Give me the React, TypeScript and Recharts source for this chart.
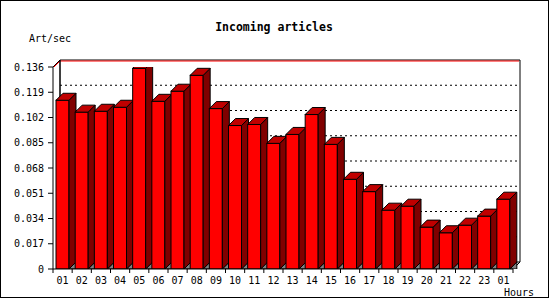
import React from "react";
import { BarChart, Bar, XAxis, YAxis, CartesianGrid } from "recharts";

const hours = ["01","02","03","04","05","06","07","08","09","10","11","12","13","14","15","16","17","18","19","20","21","22","23","01"];
const artPerSec = [0.1136,0.1056,0.1062,0.1089,0.1351,0.1129,0.1197,0.1304,0.108,0.0966,0.0973,0.0846,0.0906,0.104,0.0839,0.0604,0.0521,0.0396,0.0423,0.0282,0.0244,0.0295,0.0356,0.047];
const yTicks = [0,0.017,0.034,0.051,0.068,0.085,0.102,0.119,0.136];

const data = hours.map((h, i) => ({ hour: h, value: artPerSec[i] }));

const W = 550, H = 300;
const LEFT = 53, RIGHT = 513, TOP = 67, BOTTOM = 269;
const D = 7;
const FONT = "'DejaVu Sans Mono', monospace";
const BAND = (RIGHT - LEFT) / hours.length;

const Bar3D = (props: any) => {
  const { x, y, width, height } = props;
  if (width == null || height == null) return null;
  const b = y + height;
  return (
    <g>
      <polygon points={`${x + width},${b} ${x + width + D},${b - D} ${x + width + D},${b}`} fill="#808080" stroke="#000" strokeWidth={1} />
      <rect x={x} y={y} width={width} height={height} fill="#ff0000" stroke="#000" strokeWidth={1} />
      <polygon points={`${x + width},${y} ${x + width + D},${y - D} ${x + width + D},${b - D} ${x + width},${b}`} fill="#800000" stroke="#000" strokeWidth={1} />
      <polygon points={`${x},${y} ${x + D},${y - D} ${x + width + D},${y - D} ${x + width},${y}`} fill="#c00000" stroke="#000" strokeWidth={1} />
    </g>
  );
};

const XTick = (props: any) => {
  const { x, payload, index } = props;
  const last = index === hours.length - 1;
  return (
    <g>
      <line x1={x - BAND / 2} y1={BOTTOM} x2={x - BAND / 2} y2={BOTTOM + 4} stroke="#000" />
      {last && <line x1={x + BAND / 2} y1={BOTTOM} x2={x + BAND / 2} y2={BOTTOM + 4} stroke="#000" />}
      <text x={x} y={BOTTOM + 14.5} textAnchor="middle" fontFamily={FONT} fontSize={10} fill="#000">{payload.value}</text>
    </g>
  );
};

const GridLine = (props: any) => {
  const { x1, x2, y1 } = props;
  if (Math.abs(y1 - TOP) < 1) {
    return (
      <g>
        <line x1={x1 + D} x2={x2 + D} y1={y1 - D} y2={y1 - D} stroke="#000" />
        <line x1={x1 + D} x2={x2 + D - 1} y1={y1 - D + 1} y2={y1 - D + 1} stroke="#ff0000" />
        <line x1={x1} y1={y1} x2={x1 + D} y2={y1 - D} stroke="#000" />
        <line x1={x1 + 1} y1={y1} x2={x1 + D} y2={y1 - D + 1} stroke="#ff0000" />
        <line x1={x1 + D} y1={y1 - D} x2={x1 + D} y2={BOTTOM - D} stroke="#000" />
      </g>
    );
  }
  if (Math.abs(y1 - BOTTOM) < 1) {
    return <line x1={x1 + D} x2={x2 + D} y1={y1 - D} y2={y1 - D} stroke="#000" />;
  }
  return <line x1={x1 + D} x2={x2 + D} y1={y1 - D} y2={y1 - D} stroke="#000" strokeDasharray="2 3" />;
};

export default function App() {
  return (
    <div style={{ width: W, height: H, background: "#fff" }}>
      <style>{"body{margin:0}"}</style>
      <BarChart
        width={W}
        height={H}
        data={data}
        margin={{ top: TOP, right: W - RIGHT, bottom: H - BOTTOM - 20, left: LEFT - 45 }}
        barSize={13}
      >
        <CartesianGrid vertical={false} horizontal={GridLine as any} stroke="#000" />
        <line x1={LEFT + D} y1={TOP - D} x2={LEFT + D} y2={BOTTOM - D} stroke="#000" />
        <line x1={RIGHT + D} y1={TOP - D} x2={RIGHT + D} y2={BOTTOM - D} stroke="#000" />
        <line x1={RIGHT} y1={BOTTOM} x2={RIGHT + D} y2={BOTTOM - D} stroke="#000" />
        <XAxis
          dataKey="hour"
          height={20}
          tickLine={false}
          axisLine={{ stroke: "#000" }}
          tick={<XTick />}
          interval={0}
        />
        <YAxis
          type="number"
          domain={[0, 0.136]}
          ticks={yTicks}
          width={45}
          tickSize={5}
          tickMargin={4}
          tickLine={{ stroke: "#000" }}
          axisLine={{ stroke: "#000" }}
          tick={{ fill: "#000", fontFamily: FONT, fontSize: 10 }}
          tickFormatter={(v: number) => (v === 0 ? "0" : v.toFixed(3))}
          allowDataOverflow
        />
        <Bar dataKey="value" shape={<Bar3D />} isAnimationActive={false} />
        <rect x={0.5} y={0.5} width={548} height={297} fill="none" stroke="#000" />
        <text x={274} y={31} textAnchor="middle" fontFamily={FONT} fontWeight="bold" fontSize={11.5} fill="#000">Incoming articles</text>
        <text x={29} y={42} fontFamily={FONT} fontSize={10} fill="#000">Art/sec</text>
        <text x={504} y={296} fontFamily={FONT} fontSize={10} fill="#000">Hours</text>
      </BarChart>
    </div>
  );
}
